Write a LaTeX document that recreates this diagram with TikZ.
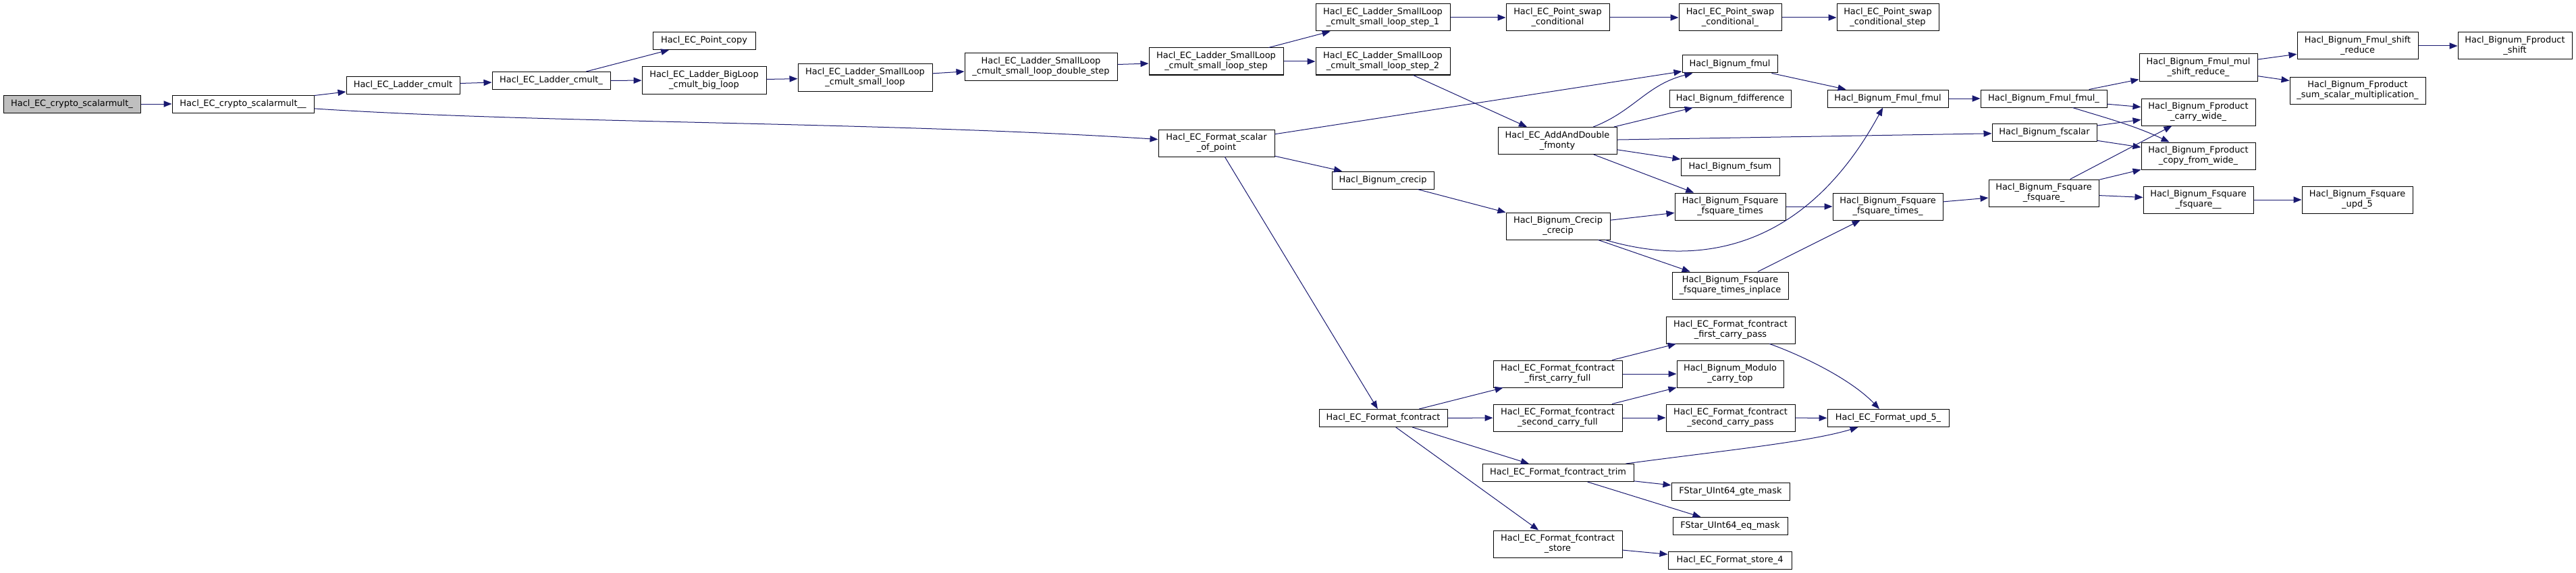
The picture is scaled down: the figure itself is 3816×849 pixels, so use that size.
\documentclass[tikz,border=0pt]{standalone}
\usepackage{fontspec}
\setmainfont{DejaVu Sans}
\usepackage[usenames,dvipsnames]{xcolor}
\usetikzlibrary{arrows.meta}

\definecolor{callblue}{HTML}{191970}
\definecolor{rootgrey}{HTML}{BFBFBF}

\tikzset{
  fn/.style={draw=black, fill=white, line width=0.75pt, inner sep=0pt, align=center,
    font=\fontsize{9.7}{11.25}\selectfont, minimum height=19.5pt},
  fn2/.style={fn, minimum height=30pt},
  bw/.style={minimum width=#1*0.75pt},
  callarrow/.style={draw=callblue, line width=0.75pt, -{Triangle[length=9pt,width=7pt]}}
}

\begin{document}
\begin{tikzpicture}[x=0.75pt,y=0.75pt,yscale=-1,xscale=1]
\useasboundingbox (0,0) rectangle (3816,849);

% Text Node
\node[fn,bw=203,fill=rootgrey] (s0) at (106.5,154) {Hacl\_EC\_crypto\_scalarmult\_};
% Text Node
\node[fn,bw=210] (s1) at (360,154) {Hacl\_EC\_crypto\_scalarmult\_\_};
% Text Node
\node[fn,bw=168] (cmult) at (597,126) {Hacl\_EC\_Ladder\_cmult};
% Text Node
\node[fn,bw=175] (cmultu) at (816.5,119.5) {Hacl\_EC\_Ladder\_cmult\_};
% Text Node
\node[fn,bw=152] (pcopy) at (1043,60.5) {Hacl\_EC\_Point\_copy};
% Text Node
\node[fn2,bw=184] (bigloop) at (1043,119) {Hacl\_EC\_Ladder\_BigLoop\\\_cmult\_big\_loop};
% Text Node
\node[fn2,bw=199] (sloop) at (1281.5,115) {Hacl\_EC\_Ladder\_SmallLoop\\\_cmult\_small\_loop};
% Text Node
\node[fn2,bw=226] (dstep) at (1542,99) {Hacl\_EC\_Ladder\_SmallLoop\\\_cmult\_small\_loop\_double\_step};
% Text Node
\node[fn2,bw=199] (lstep) at (1801.5,91) {Hacl\_EC\_Ladder\_SmallLoop\\\_cmult\_small\_loop\_step};
% Text Node
\node[fn2,bw=199] (lstepa) at (2048.5,26) {Hacl\_EC\_Ladder\_SmallLoop\\\_cmult\_small\_loop\_step\_1};
% Text Node
\node[fn2,bw=199] (lstepb) at (2048.5,91) {Hacl\_EC\_Ladder\_SmallLoop\\\_cmult\_small\_loop\_step\_2};
% Text Node
\node[fn2,bw=153] (swap) at (2307.5,26) {Hacl\_EC\_Point\_swap\\\_conditional};
% Text Node
\node[fn2,bw=152] (swapu) at (2563,26) {Hacl\_EC\_Point\_swap\\\_conditional\_};
% Text Node
\node[fn2,bw=151] (swapstep) at (2796.5,26) {Hacl\_EC\_Point\_swap\\\_conditional\_step};
% Text Node
\node[fn2,bw=172] (sop) at (1802,212) {Hacl\_EC\_Format\_scalar\\\_of\_point};
% Text Node
\node[fn,bw=151] (crecip) at (2048.5,267) {Hacl\_Bignum\_crecip};
% Text Node
\node[fn,bw=190] (fcontract) at (2049,619.5) {Hacl\_EC\_Format\_fcontract};
% Text Node
\node[fn2,bw=176] (fmonty) at (2307,208.5) {Hacl\_EC\_AddAndDouble\\\_fmonty};
% Text Node
\node[fn2,bw=154] (ccrecip) at (2308,335) {Hacl\_Bignum\_Crecip\\\_crecip};
% Text Node
\node[fn,bw=141] (fmul) at (2562.5,95) {Hacl\_Bignum\_fmul};
% Text Node
\node[fn,bw=180] (fdiff) at (2563,146) {Hacl\_Bignum\_fdifference};
% Text Node
\node[fn,bw=146] (fsum) at (2563,247) {Hacl\_Bignum\_fsum};
% Text Node
\node[fn2,bw=164] (fst) at (2563,306) {Hacl\_Bignum\_Fsquare\\\_fsquare\_times};
% Text Node
\node[fn2,bw=172] (fstip) at (2563,423) {Hacl\_Bignum\_Fsquare\\\_fsquare\_times\_inplace};
% Text Node
\node[fn,bw=179] (fmulfmul) at (2796.5,146) {Hacl\_Bignum\_Fmul\_fmul};
% Text Node
\node[fn2,bw=163] (fstu) at (2796.5,306) {Hacl\_Bignum\_Fsquare\\\_fsquare\_times\_};
% Text Node
\node[fn,bw=187] (fmulfmulu) at (3027.5,146) {Hacl\_Bignum\_Fmul\_fmul\_};
% Text Node
\node[fn,bw=155] (fscalar) at (3028.5,196.5) {Hacl\_Bignum\_fscalar};
% Text Node
\node[fn2,bw=163] (fsqu) at (3027.5,286) {Hacl\_Bignum\_Fsquare\\\_fsquare\_};
% Text Node
\node[fn2,bw=175] (msr) at (3256.5,100) {Hacl\_Bignum\_Fmul\_mul\\\_shift\_reduce\_};
% Text Node
\node[fn2,bw=169] (cwide) at (3256.5,166) {Hacl\_Bignum\_Fproduct\\\_carry\_wide\_};
% Text Node
\node[fn2,bw=169] (cfw) at (3256.5,231) {Hacl\_Bignum\_Fproduct\\\_copy\_from\_wide\_};
% Text Node
\node[fn2,bw=163] (fsquu) at (3256.5,296) {Hacl\_Bignum\_Fsquare\\\_fsquare\_\_};
% Text Node
\node[fn2,bw=179] (shred) at (3492.5,68) {Hacl\_Bignum\_Fmul\_shift\\\_reduce};
% Text Node
\node[fn2,bw=201] (ssm) at (3492.5,134) {Hacl\_Bignum\_Fproduct\\\_sum\_scalar\_multiplication\_};
% Text Node
\node[fn2,bw=169] (pshift) at (3725.5,68) {Hacl\_Bignum\_Fproduct\\\_shift};
% Text Node
\node[fn2,bw=164] (updv) at (3492,296) {Hacl\_Bignum\_Fsquare\\\_upd\_5};
% Text Node
\node[fn2,bw=191] (fcfcf) at (2307.5,554) {Hacl\_EC\_Format\_fcontract\\\_first\_carry\_full};
% Text Node
\node[fn2,bw=191] (fcscf) at (2307.5,619) {Hacl\_EC\_Format\_fcontract\\\_second\_carry\_full};
% Text Node
\node[fn2,bw=191] (fcfcp) at (2563.5,489) {Hacl\_EC\_Format\_fcontract\\\_first\_carry\_pass};
% Text Node
\node[fn2,bw=158] (ctop) at (2563,554) {Hacl\_Bignum\_Modulo\\\_carry\_top};
% Text Node
\node[fn2,bw=191] (fcscp) at (2563.5,619) {Hacl\_EC\_Format\_fcontract\\\_second\_carry\_pass};
% Text Node
\node[fn,bw=180] (fupd) at (2797,619.5) {Hacl\_EC\_Format\_upd\_5\_};
% Text Node
\node[fn,bw=224] (trim) at (2308,700.5) {Hacl\_EC\_Format\_fcontract\_trim};
% Text Node
\node[fn,bw=175] (gte) at (2563.5,728.5) {FStar\_UInt64\_gte\_mask};
% Text Node
\node[fn,bw=170] (eqm) at (2563,779.5) {FStar\_UInt64\_eq\_mask};
% Text Node
\node[fn2,bw=191] (store) at (2307.5,806) {Hacl\_EC\_Format\_fcontract\\\_store};
% Text Node
\node[fn,bw=183] (storev) at (2562.5,830) {Hacl\_EC\_Format\_store\_4};

%Straight Lines
\draw[callarrow] (s0) -- (s1);
\draw[callarrow] (s1) -- (cmult);
\draw[callarrow] (cmult) -- (cmultu);
\draw[callarrow] (cmultu) -- (pcopy);
\draw[callarrow] (cmultu) -- (bigloop);
\draw[callarrow] (bigloop) -- (sloop);
\draw[callarrow] (sloop) -- (dstep);
\draw[callarrow] (dstep) -- (lstep);
\draw[callarrow] (lstep) -- (lstepa);
\draw[callarrow] (lstep) -- (lstepb);
\draw[callarrow] (lstepa) -- (swap);
\draw[callarrow] (swap) -- (swapu);
\draw[callarrow] (swapu) -- (swapstep);
\draw[callarrow] (lstepb) -- (fmonty);
\draw[callarrow] (sop) -- (fmul);
\draw[callarrow] (sop) -- (crecip);
\draw[callarrow] (sop) -- (fcontract);
\draw[callarrow] (fmonty) -- (fdiff);
\draw[callarrow] (fmonty) -- (fscalar);
\draw[callarrow] (fmonty) -- (fsum);
\draw[callarrow] (fmonty) -- (fst);
\draw[callarrow] (crecip) -- (ccrecip);
\draw[callarrow] (ccrecip) -- (fst);
\draw[callarrow] (ccrecip) -- (fstip);
\draw[callarrow] (fmul) -- (fmulfmul);
\draw[callarrow] (fst) -- (fstu);
\draw[callarrow] (fstip) -- (fstu);
\draw[callarrow] (fmulfmul) -- (fmulfmulu);
\draw[callarrow] (fstu) -- (fsqu);
\draw[callarrow] (fmulfmulu) -- (msr);
\draw[callarrow] (fmulfmulu) -- (cwide);
\draw[callarrow] (fscalar) -- (cwide);
\draw[callarrow] (fscalar) -- (cfw);
\draw[callarrow] (fsqu) -- (cwide);
\draw[callarrow] (fsqu) -- (cfw);
\draw[callarrow] (fsqu) -- (fsquu);
\draw[callarrow] (fsquu) -- (updv);
\draw[callarrow] (msr) -- (shred);
\draw[callarrow] (msr) -- (ssm);
\draw[callarrow] (shred) -- (pshift);
\draw[callarrow] (fcontract) -- (fcfcf);
\draw[callarrow] (fcontract) -- (fcscf);
\draw[callarrow] (fcontract) -- (trim);
\draw[callarrow] (fcontract) -- (store);
\draw[callarrow] (fcfcf) -- (fcfcp);
\draw[callarrow] (fcfcf) -- (ctop);
\draw[callarrow] (fcscf) -- (ctop);
\draw[callarrow] (fcscf) -- (fcscp);
\draw[callarrow] (fcscp) -- (fupd);
\draw[callarrow] (trim) -- (gte);
\draw[callarrow] (trim) -- (eqm);
\draw[callarrow] (store) -- (storev);

%Curve Lines
\draw[callarrow] (s1) .. controls (800,183) and (1300,180) .. (sop);
\draw[callarrow] (fmonty) .. controls (2420,165) and (2440,125) .. (fmul);
\draw[callarrow] (ccrecip) .. controls (2530,400) and (2680,360) .. (fmulfmul);
\draw[callarrow] (fmulfmulu) .. controls (3110,172) and (3160,185) .. (cfw);
\draw[callarrow] (fcfcp) .. controls (2665,525) and (2740,560) .. (fupd);
\draw[callarrow] (trim) .. controls (2550,668) and (2680,655) .. (fupd);

\end{tikzpicture}
\end{document}
